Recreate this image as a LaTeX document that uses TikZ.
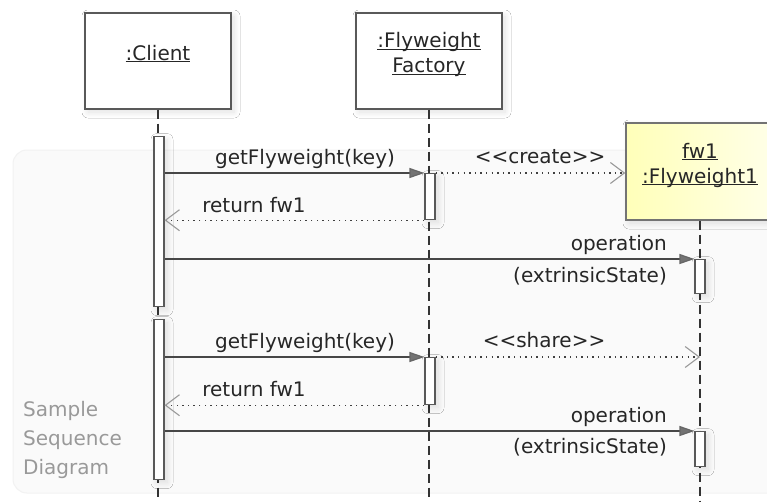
\documentclass[tikz,border=0pt]{standalone}
\usepackage{fontspec}
\setmainfont{DejaVu Sans}
\usetikzlibrary{arrows.meta,shadows.blur}
\newcommand\ulx[1]{\underline{\smash{#1}}}
\definecolor{fwleft}{RGB}{255,255,185}
\definecolor{fwright}{RGB}{255,255,232}
\begin{document}
\begin{tikzpicture}[x=1pt,y=-1pt,
  every node/.style={font=\fontsize{20}{25}\selectfont, text=black!85},
  softshadow/.style={blur shadow={shadow xshift=3pt, shadow yshift=-3pt, shadow blur radius=6pt, shadow blur steps=8, shadow opacity=12}},
  objbox/.style={draw=black!65, line width=1.4pt, fill=white, minimum width=146pt, minimum height=96pt, inner sep=0pt, align=center, softshadow},
  actbar/.style={draw=black!65, line width=1.2pt, fill=white, minimum width=10pt, inner sep=0pt, anchor=north, softshadow},
  life/.style={draw=black!80, line width=1.2pt, dash pattern=on 9pt off 5pt},
  callmsg/.style={draw=black!72, line width=1.2pt, -{Triangle[length=15pt,width=10pt,fill=black!55,color=black!60]}},
  retmsg/.style={draw=black!75, line width=1.4pt, dash pattern=on 1.4pt off 4.2pt, -{Straight Barb[length=14pt,width=21pt,line width=1.1pt,color=black!40]}},
  lbl/.style={anchor=base, inner sep=0pt},
  lblr/.style={anchor=base east, inner sep=0pt}]
\useasboundingbox (0,0) rectangle (767,501);
\fill[white] (0,0) rectangle (767,501);
% background frame
\path[draw=black!5, fill=black!1.8, rounded corners=14pt, line width=1pt] (13,150) rectangle (800,493);
% objects
\node[objbox] (client) at (158,61) {\ulx{:Client}};
\node[objbox] (factory) at (429,61) {\ulx{:Flyweight}\\\ulx{Factory}};
\node[objbox, minimum width=148pt, minimum height=97pt, draw=black!55, left color=fwleft, right color=fwright] (fw) at (700,171.5) {\ulx{fw1}\\\ulx{:Flyweight1}};
% lifelines
\coordinate (bot) at (0,501);
\draw[life] (client.south) -- (client.south |- bot);
\draw[life] (factory.south) -- (factory.south |- bot);
\draw[life] (fw.south) -- (fw.south |- bot);
% activations
\node[actbar, minimum height=170pt] (c1) at (159,136) {};
\node[actbar, minimum height=160pt] (c2) at (159,319) {};
\node[actbar, minimum height=46pt] (f1) at (430,173) {};
\node[actbar, minimum height=47pt] (f2) at (430,357) {};
\node[actbar, minimum height=34pt] (w1) at (700,259) {};
\node[actbar, minimum height=35pt] (w2) at (700,431) {};
% messages
\draw[callmsg] (c1.east |- f1.north) -- (f1.north west);
\draw[retmsg] (f1.north east) -- (fw.west |- f1.north);
\draw[retmsg] (f1.south west) -- (c1.east |- f1.south);
\draw[callmsg] (c1.east |- w1.north) -- (w1.north west);
\draw[callmsg] (c2.east |- f2.north) -- (f2.north west);
\draw[retmsg] (f2.north east) -- (fw.south |- f2.north);
\draw[retmsg] (f2.south west) -- (c2.east |- f2.south);
\draw[callmsg] (c2.east |- w2.north) -- (w2.north west);
% labels
\node[lbl] (lg1) at (305,164) {getFlyweight(key)};
\node[lbl] (lcr) at (540,163) {<{}<create>{}>};
\node[lbl] (lr1) at (254,212) {return fw1};
\node[lblr] (lo1) at (667,250) {operation};
\node[lblr] (le1) at (667,282) {(extrinsicState)};
\node[lbl] (lg2) at (305,348) {getFlyweight(key)};
\node[lbl] (lsh) at (544,347) {<{}<share>{}>};
\node[lbl] (lr2) at (254,396) {return fw1};
\node[lblr] (lo2) at (667,422) {operation};
\node[lblr] (le2) at (667,453) {(extrinsicState)};
\node[anchor=north west, align=left, text=black!40, font=\fontsize{20}{29}\selectfont, inner sep=0pt] (cap) at (23,401) {Sample\\Sequence\\Diagram};
\end{tikzpicture}
\end{document}
